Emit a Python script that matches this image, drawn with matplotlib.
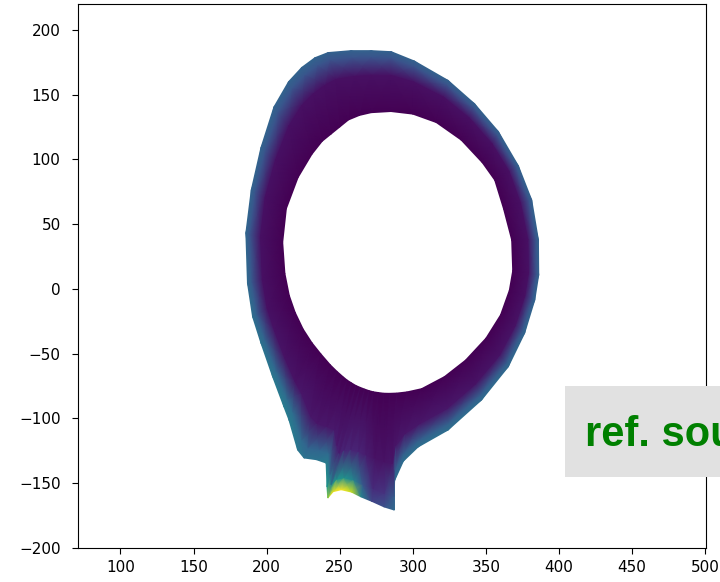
import numpy as np
import matplotlib.pyplot as plt
from matplotlib.patches import Rectangle

# outer edge of the grid (R, Z), clockwise from the top
outer_r = [271.5, 285.2, 301.0, 324.1, 342.2, 358.5, 372.2, 381.3, 385.9, 386.1,
           383.4, 376.5, 365.3, 347.0, 324.1, 303.6, 293.5, 287.5, 287.3, 280.4,
           272.0, 264.5, 258.0, 251.0, 245.5, 241.8, 241.3, 240.7, 234.0, 225.6,
           221.2, 215.3, 211.8, 204.1, 196.1, 190.4, 186.9, 185.8, 189.5, 196.1,
           205.0, 215.0, 224.0, 233.0, 242.0, 257.8]
outer_z = [184.0, 183.2, 176.0, 161.0, 143.0, 121.5, 95.0, 68.7, 37.8, 10.8,
           -8.5, -34.0, -60.0, -85.7, -108.9, -122.0, -133.0, -148.0, -170.7, -168.3,
           -164.0, -160.5, -156.8, -155.0, -156.5, -161.4, -152.7, -134.4, -131.8, -130.5,
           -124.3, -101.2, -90.9, -67.7, -41.7, -21.4, 4.6, 43.2, 76.4, 109.0,
           140.5, 160.0, 171.0, 178.5, 182.5, 184.0]

# inner edge (core boundary), same poloidal order
inner_r = [271.5, 285.0, 300.0, 316.0, 333.0, 347.5, 356.0, 362.0, 367.6, 368.3,
           366.0, 360.0, 350.0, 336.0, 321.6, 306.0, 296.0, 289.0, 284.0, 280.0,
           276.5, 273.0, 270.0, 267.0, 264.0, 261.0, 258.0, 255.0, 252.0, 248.0,
           243.5, 237.0, 231.0, 225.0, 219.5, 215.5, 212.5, 211.0, 213.5, 221.5,
           231.0, 238.0, 244.0, 250.0, 256.0, 263.5]
inner_z = [136.1, 137.0, 135.0, 128.5, 115.0, 97.5, 84.0, 62.0, 37.8, 14.0,
           -1.0, -20.0, -38.0, -55.0, -67.7, -77.0, -79.5, -80.4, -80.6, -80.5,
           -80.0, -79.4, -78.5, -77.3, -76.0, -74.5, -72.5, -70.3, -67.5, -63.5,
           -58.5, -50.0, -41.5, -31.0, -18.0, -5.0, 12.0, 36.0, 62.0, 86.0,
           104.0, 114.0, 119.5, 125.0, 130.5, 134.0]

# radial position of each grid ring (0 = outer edge, 1 = core)
ring_frac = [0.0, 0.12, 0.4, 1.0]

# field on each ring (normalised log scale)
val_ring0 = [0.31, 0.31, 0.31, 0.31, 0.31, 0.31, 0.31, 0.31, 0.31, 0.31,
             0.32, 0.33, 0.34, 0.35, 0.36, 0.36, 0.36, 0.35, 0.35, 0.25,
             0.20, 0.45, 0.92, 1.00, 0.98, 0.88, 0.55, 0.42, 0.38, 0.38,
             0.40, 0.42, 0.42, 0.40, 0.38, 0.36, 0.34, 0.33, 0.32, 0.32,
             0.32, 0.32, 0.32, 0.32, 0.31, 0.31]
val_ring1 = [0.25, 0.25, 0.25, 0.25, 0.25, 0.25, 0.25, 0.25, 0.25, 0.25,
             0.26, 0.27, 0.28, 0.29, 0.30, 0.30, 0.30, 0.29, 0.28, 0.15,
             0.12, 0.28, 0.45, 0.50, 0.50, 0.45, 0.38, 0.34, 0.32, 0.32,
             0.34, 0.35, 0.35, 0.33, 0.31, 0.29, 0.27, 0.26, 0.26, 0.26,
             0.26, 0.26, 0.26, 0.26, 0.25, 0.25]
val_ring2 = [0.04, 0.04, 0.04, 0.04, 0.04, 0.04, 0.04, 0.04, 0.04, 0.04,
             0.04, 0.05, 0.05, 0.05, 0.06, 0.06, 0.06, 0.06, 0.06, 0.05,
             0.05, 0.08, 0.10, 0.10, 0.10, 0.09, 0.08, 0.07, 0.06, 0.06,
             0.06, 0.06, 0.05, 0.05, 0.05, 0.04, 0.04, 0.04, 0.04, 0.04,
             0.04, 0.04, 0.04, 0.04, 0.04, 0.04]
val_ring3 = [0.0] * 46

outer = np.array([outer_r, outer_z])
inner = np.array([inner_r, inner_z])
frac = np.array(ring_frac)[:, None]

# structured grid between the two edges, closed poloidally
R = outer[0] + frac * (inner[0] - outer[0])
Z = outer[1] + frac * (inner[1] - outer[1])
C = np.array([val_ring0, val_ring1, val_ring2, val_ring3])
R = np.hstack([R, R[:, :1]])
Z = np.hstack([Z, Z[:, :1]])
C = np.hstack([C, C[:, :1]])

fig = plt.figure(figsize=(7.2, 5.82), dpi=100)
ax = fig.add_axes([78 / 720, 34 / 582, 628 / 720, 544 / 582])

ax.pcolormesh(R, Z, C, shading='gouraud', cmap='viridis', vmin=0, vmax=1)
ax.set_xlim(71, 500.5)
ax.set_ylim(-200, 220)
ax.set_xticks([100, 150, 200, 250, 300, 350, 400, 450, 500])
ax.set_yticks([-200, -150, -100, -50, 0, 50, 100, 150, 200])
ax.tick_params(labelsize=11, length=4.5)
ax.tick_params(axis='y', pad=8)
ax.tick_params(axis='x', pad=4.5)
ax.set_title('Te distribution in log', pad=6.3)

# source note
fig.add_artist(Rectangle((565 / 720, 1 - 477 / 582), 0.3, 91 / 582,
                         transform=fig.transFigure, facecolor='#e1e1e1',
                         edgecolor='none', zorder=5))
fig.text(585 / 720, 1 - 446 / 582, 'ref. source', color='green',
         fontsize=30, fontweight='bold', va='baseline', zorder=6,
         family=['Liberation Sans', 'DejaVu Sans'])

plt.savefig('out.png', dpi=100)
